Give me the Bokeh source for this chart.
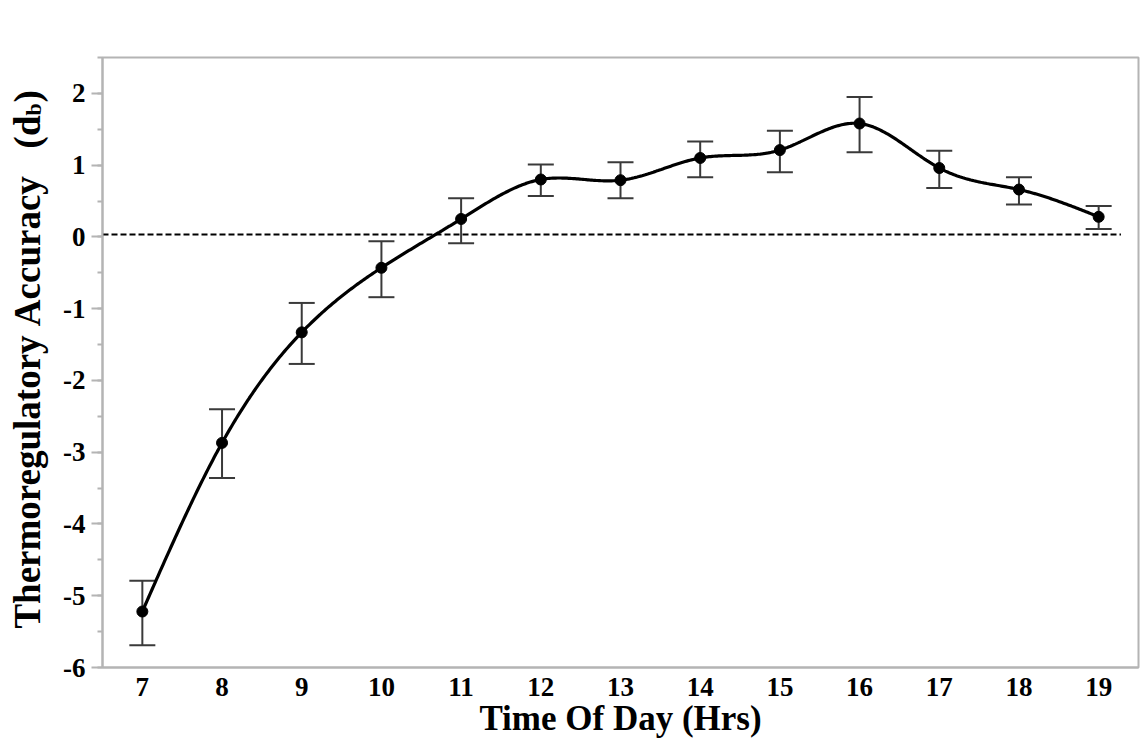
import numpy as np
from math import pi
from bokeh.plotting import figure
from bokeh.layouts import row
from bokeh.models import Range1d, FixedTicker, Whisker, TeeHead, ColumnDataSource
from bokeh.core.properties import value
from bokeh.embed import file_html
from bokeh.resources import INLINE

# ---- data ----
hours = [7, 8, 9, 10, 11, 12, 13, 14, 15, 16, 17, 18, 19]
accuracy = [-5.22, -2.87, -1.33, -0.43, 0.25, 0.80, 0.79, 1.10, 1.21, 1.58, 0.96, 0.66, 0.28]
err_upper = [-4.79, -2.40, -0.92, -0.06, 0.54, 1.01, 1.04, 1.33, 1.48, 1.95, 1.20, 0.83, 0.43]
err_lower = [-5.69, -3.36, -1.77, -0.84, -0.09, 0.57, 0.54, 0.83, 0.90, 1.18, 0.68, 0.45, 0.11]
reference_level = 0.035
y_ticks = [-6, -5, -4, -3, -2, -1, 0, 1, 2]
x_ticks = hours
NB = "\u00a0"
y_title = "Thermoregulatory" + NB + "Accuracy" + NB * 3 + "(d"
y_title_sub = "b"
y_title_end = ")"

FONT = "Liberation Serif"
H = 745
TOP = 57
FRAME_H = 610
BOTTOM = H - TOP - FRAME_H
LEFT_W = 60


def natural_spline(xs, ys, n=600):
    xs = np.asarray(xs, float)
    ys = np.asarray(ys, float)
    m = len(xs)
    h = np.diff(xs)
    A = np.zeros((m, m))
    r = np.zeros(m)
    A[0, 0] = 1
    A[-1, -1] = 1
    for i in range(1, m - 1):
        A[i, i - 1] = h[i - 1]
        A[i, i] = 2 * (h[i - 1] + h[i])
        A[i, i + 1] = h[i]
        r[i] = 3 * ((ys[i + 1] - ys[i]) / h[i] - (ys[i] - ys[i - 1]) / h[i - 1])
    c = np.linalg.solve(A, r)
    xx = np.linspace(xs[0], xs[-1], n)
    yy = np.empty_like(xx)
    for k, x in enumerate(xx):
        i = min(np.searchsorted(xs, x, side="right") - 1, m - 2)
        dx = x - xs[i]
        b = (ys[i + 1] - ys[i]) / h[i] - h[i] * (2 * c[i] + c[i + 1]) / 3
        d = (c[i + 1] - c[i]) / (3 * h[i])
        yy[k] = ys[i] + b * dx + c[i] * dx ** 2 + d * dx ** 3
    return xx, yy


# ---- narrow strip holding the rotated y-axis title (pixel coordinates) ----
t = figure(frame_width=LEFT_W, frame_height=FRAME_H,
           min_border_left=0, min_border_right=0,
           min_border_top=TOP, min_border_bottom=BOTTOM,
           x_range=Range1d(0, LEFT_W), y_range=Range1d(H - TOP - FRAME_H, H - TOP),
           output_backend="svg", toolbar_location=None)
t.axis.visible = False
t.grid.visible = False
t.outline_line_color = None
t.background_fill_color = "white"
t.border_fill_color = "white"

base_x = 27
d_end = H - 115
t.text(x=[base_x], y=[d_end], text=[y_title], angle=pi / 2, text_align="right",
       text_baseline="alphabetic", text_font=value(FONT), text_font_style="bold",
       text_font_size="37px", text_color="black")
t.text(x=[base_x + 6], y=[d_end], text=[y_title_sub], angle=pi / 2, text_align="left",
       text_baseline="alphabetic", text_font=value(FONT), text_font_style="bold",
       text_font_size="22px", text_color="black")
t.text(x=[base_x], y=[d_end + 13], text=[y_title_end], angle=pi / 2, text_align="left",
       text_baseline="alphabetic", text_font=value(FONT), text_font_style="bold",
       text_font_size="37px", text_color="black")

# ---- main chart ----
p = figure(
    frame_width=1036, frame_height=FRAME_H,
    min_border_left=102 - LEFT_W, min_border_right=6, min_border_top=TOP,
    min_border_bottom=BOTTOM,
    x_range=Range1d(6.5, 19.5), y_range=Range1d(-6, 2.5),
    output_backend="svg", toolbar_location=None,
)
p.grid.visible = False
p.outline_line_color = "#b4b4b4"
p.outline_line_width = 2
p.background_fill_color = "white"
p.border_fill_color = "white"

for ax in (p.xaxis[0], p.yaxis[0]):
    ax.axis_line_color = "#b4b4b4"
    ax.axis_line_width = 2
    ax.major_tick_line_color = "#b4b4b4"
    ax.major_tick_line_width = 2
    ax.minor_tick_line_color = "#b4b4b4"
    ax.minor_tick_line_width = 2
    ax.major_label_text_font = FONT
    ax.major_label_text_font_style = "bold"
    ax.major_label_text_font_size = "27px"
    ax.major_label_text_color = "black"
    ax.major_tick_in = 0
    ax.minor_tick_in = 0

p.xaxis.ticker = FixedTicker(ticks=x_ticks)
p.xaxis.major_tick_out = 0
p.xaxis.minor_tick_out = 0
p.xaxis.major_label_standoff = 10
p.xaxis.axis_label = "Time Of Day (Hrs)"
p.xaxis.axis_label_text_font = FONT
p.xaxis.axis_label_text_font_style = "bold"
p.xaxis.axis_label_text_font_size = "35px"
p.xaxis.axis_label_text_color = "black"
p.xaxis.axis_label_standoff = 0

minor = [v / 2 for v in range(-12, 6)]
p.yaxis.ticker = FixedTicker(ticks=y_ticks, minor_ticks=minor)
p.yaxis.major_label_overrides = {v: str(v) for v in y_ticks}
p.yaxis.major_tick_out = 11
p.yaxis.minor_tick_out = 5
p.yaxis.major_label_standoff = 6
p.yaxis.axis_label = None

# reference dashed line
p.line([6.5, 19.28], [reference_level, reference_level], line_color="black",
       line_width=2, line_dash="6 3")

# error bars
src = ColumnDataSource(dict(x=hours, y=accuracy, upper=err_upper, lower=err_lower))
wh = Whisker(source=src, base="x", upper="upper", lower="lower",
             line_color="#3a3a3a", line_width=2,
             upper_head=TeeHead(size=26, line_color="#3a3a3a", line_width=2),
             lower_head=TeeHead(size=26, line_color="#3a3a3a", line_width=2))
p.add_layout(wh)

# smooth curve and points
xs, ys = natural_spline(hours, accuracy)
p.line(xs, ys, line_color="black", line_width=3.2)
p.scatter("x", "y", source=src, size=11, color="black")

layout = row(t, p, spacing=0)
open("out.html", "w").write(file_html(layout, INLINE))
